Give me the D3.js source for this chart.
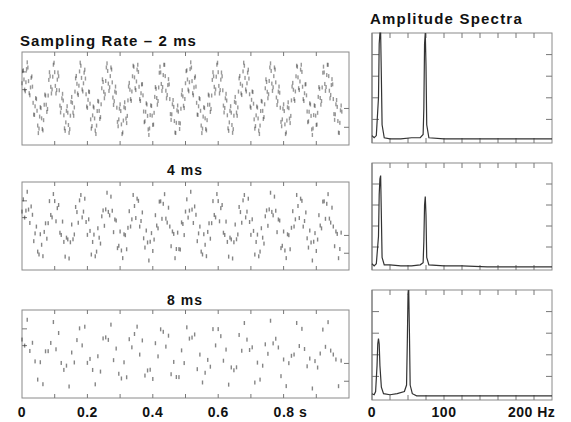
<!DOCTYPE html>
<html lang="en">
<head>
  <meta charset="UTF-8">
  <title>Sampling Rate and Amplitude Spectra</title>
  <style>
    body { margin: 0; background: #fff; }
    svg { display: block; background: #fff; }
    text { font-family: "Liberation Sans", Arial, sans-serif; font-weight: bold; fill: #111; }
    .frame { fill: none; stroke: #8a8a8a; stroke-width: 1; }
    .tick { stroke: #777; stroke-width: 1; }
  </style>
</head>
<body>
  <svg id="chart" width="571" height="422"></svg>
  <script src="https://d3js.org/d3.v7.min.js"></script>
  <script>
    // sampling intervals of the three rows (ms)
    const sampleIntervalsMs = [2, 4, 8]
    const panelTitles = ['Sampling Rate \u2013 2 ms', '4 ms', '8 ms']
    const spectraTitle = 'Amplitude Spectra'

    const signalFreqsHz = [12, 74]
    const signalAmps = [1.0, 0.65]
    const signalPhases = [0.52, 0.3]
    const recordLengthS = 0.98

    const timeTicks = [0, 0.2, 0.4, 0.6, 0.8]
    const timeTickLabels = ['0', '0.2', '0.4', '0.6', '0.8 s']
    const freqTicks = [0, 100, 200]
    const freqTickLabels = ['0', '100', '200 Hz']

    // amplitude spectra, one pair of arrays per row (Hz, relative amplitude)
    const spec2Freqs = [0, 3, 6, 9, 10, 11, 12, 13, 14, 17, 25, 40, 55, 67, 71, 72, 73, 74, 75, 76, 79, 100, 130, 160, 200, 250]
    const spec2Amps = [0.05, 0.03, 0.05, 0.4, 0.9, 1.0, 1.0, 0.6, 0.15, 0.03, 0.02, 0.02, 0.03, 0.03, 0.06, 0.3, 0.9, 1.0, 0.7, 0.15, 0.03, 0.02, 0.02, 0.02, 0.02, 0.02]
    const spec4Freqs = [0, 3, 6, 9, 10, 11, 12, 13, 14, 17, 25, 40, 55, 67, 71, 72, 73, 74, 75, 76, 79, 100, 125, 160, 200, 250]
    const spec4Amps = [0.04, 0.02, 0.04, 0.3, 0.7, 0.85, 0.88, 0.5, 0.1, 0.03, 0.03, 0.02, 0.02, 0.03, 0.05, 0.25, 0.6, 0.68, 0.5, 0.1, 0.03, 0.02, 0.02, 0.01, 0.01, 0.01]
    const spec8Freqs = [0, 3, 5, 7, 8, 9, 10, 11, 13, 16, 25, 35, 45, 48, 49, 50, 51, 52, 53, 56, 62, 80, 120, 200, 250]
    const spec8Amps = [0.04, 0.03, 0.06, 0.3, 0.5, 0.55, 0.5, 0.3, 0.1, 0.04, 0.03, 0.04, 0.06, 0.12, 0.5, 0.95, 1.0, 0.6, 0.12, 0.04, 0.02, 0.02, 0.02, 0.02, 0.02]
    const spectraFreqs = [spec2Freqs, spec4Freqs, spec8Freqs]
    const spectraAmps = [spec2Amps, spec4Amps, spec8Amps]

    const svg = d3.select('#chart')

    const leftX = [22, 349]
    const rightX = [372, 552]
    const leftY = [[52, 145], [182, 270], [310, 398]]
    const rightY = [[33, 143], [163, 270], [290, 400]]
    const titleY = [46, 175, 305]

    const x = d3.scaleLinear().domain([0, 1]).range(leftX)
    const fx = d3.scaleLinear().domain([0, 250]).range(rightX)

    function signal(t) {
      return d3.sum(signalFreqsHz, (f, k) => signalAmps[k] * Math.sin(2 * Math.PI * f * t + signalPhases[k]))
    }

    sampleIntervalsMs.forEach((dtMs, row) => {
      const [top, bottom] = leftY[row]
      const y = d3.scaleLinear().domain([-2.1, 2.1]).range([bottom, top])
      const g = svg.append('g')

      g.append('rect').attr('class', 'frame')
        .attr('x', leftX[0]).attr('y', top)
        .attr('width', leftX[1] - leftX[0]).attr('height', bottom - top)

      // time ticks, inward on top and bottom
      const tt = d3.range(0.1, 1.0, 0.1)
      g.selectAll('.tt').data(tt).enter().append('line').attr('class', 'tick')
        .attr('x1', d => x(d)).attr('x2', d => x(d)).attr('y1', top).attr('y2', top + 4)
      g.selectAll('.tb').data(tt).enter().append('line').attr('class', 'tick')
        .attr('x1', d => x(d)).attr('x2', d => x(d)).attr('y1', bottom).attr('y2', bottom - 4)
      g.selectAll('.yl').data([0.4, 1.2]).enter().append('line').attr('class', 'tick')
        .attr('x1', leftX[0]).attr('x2', leftX[0] + 5).attr('y1', d => y(d)).attr('y2', d => y(d))
      g.selectAll('.yr').data([-0.45, -1.3]).enter().append('line').attr('class', 'tick')
        .attr('x1', leftX[1]).attr('x2', leftX[1] - 5).attr('y1', d => y(d)).attr('y2', d => y(d))

      const samples = d3.range(0, recordLengthS, dtMs / 1000).map(t => ({ t, v: signal(t) }))
      g.selectAll('.s').data(samples).enter().append('rect')
        .attr('x', d => x(d.t) - 0.7)
        .attr('y', d => y(d.v) - 2)
        .attr('width', 1.4)
        .attr('height', 4)
        .attr('fill', '#333')
        .attr('fill-opacity', dtMs === 2 ? 0.5 : 0.6)

      const title = svg.append('text')
        .attr('y', titleY[row])
        .attr('font-size', row === 0 ? 15 : 14)
        .attr('letter-spacing', row === 0 ? 1.1 : 1)
        .text(panelTitles[row])
      if (row === 0) title.attr('x', 20)
      else title.attr('x', 185).attr('text-anchor', 'middle')

      // spectrum
      const [sTop, sBottom] = rightY[row]
      const ay = d3.scaleLinear().domain([0, 1]).range([sBottom - 2, sTop])
      const h = svg.append('g')
      h.append('rect').attr('class', 'frame')
        .attr('x', rightX[0]).attr('y', sTop)
        .attr('width', rightX[1] - rightX[0]).attr('height', sBottom - sTop)
        .attr('stroke', '#aaa')
      h.append('line').attr('class', 'tick').attr('stroke-width', 1.5)
        .attr('x1', rightX[0]).attr('x2', rightX[0]).attr('y1', sTop).attr('y2', sBottom)
      const ft = d3.range(25, 250, 25)
      h.selectAll('.ft').data(ft).enter().append('line').attr('class', 'tick')
        .attr('x1', d => fx(d)).attr('x2', d => fx(d)).attr('y1', sTop).attr('y2', sTop + 5)
      h.selectAll('.fb').data(ft).enter().append('line').attr('class', 'tick')
        .attr('x1', d => fx(d)).attr('x2', d => fx(d)).attr('y1', sBottom).attr('y2', sBottom - 5)
      const at = [0.2, 0.4, 0.6, 0.8]
      h.selectAll('.al').data(at).enter().append('line').attr('class', 'tick')
        .attr('x1', rightX[0]).attr('x2', rightX[0] + 7).attr('y1', d => ay(d)).attr('y2', d => ay(d))
      h.selectAll('.ar').data(at).enter().append('line').attr('class', 'tick')
        .attr('stroke', '#aaa')
        .attr('x1', rightX[1]).attr('x2', rightX[1] - 6).attr('y1', d => ay(d)).attr('y2', d => ay(d))

      const pts = spectraFreqs[row].map((f, i) => [f, spectraAmps[row][i]])
      const line = d3.line().x(d => fx(d[0])).y(d => ay(d[1]))
      h.append('path')
        .attr('d', line(pts))
        .attr('fill', 'none')
        .attr('stroke', '#333')
        .attr('stroke-width', 1.2)
    })

    svg.append('text').attr('x', 370).attr('y', 24)
      .attr('font-size', 15).attr('letter-spacing', 1.2).text(spectraTitle)

    svg.selectAll('.tl').data(timeTicks).enter().append('text')
      .attr('x', d => x(d)).attr('y', 417).attr('font-size', 14).attr('letter-spacing', 0.5)
      .attr('text-anchor', (d, i) => i === timeTicks.length - 1 ? 'start' : 'middle')
      .attr('dx', (d, i) => i === timeTicks.length - 1 ? -10 : 0)
      .text((d, i) => timeTickLabels[i])

    svg.selectAll('.fl').data(freqTicks).enter().append('text')
      .attr('x', d => fx(d)).attr('y', 417).attr('font-size', 14).attr('letter-spacing', 0.5)
      .attr('text-anchor', (d, i) => i === freqTicks.length - 1 ? 'start' : 'middle')
      .attr('dx', (d, i) => i === freqTicks.length - 1 ? -8 : 0)
      .text((d, i) => freqTickLabels[i])
  </script>
</body>
</html>
